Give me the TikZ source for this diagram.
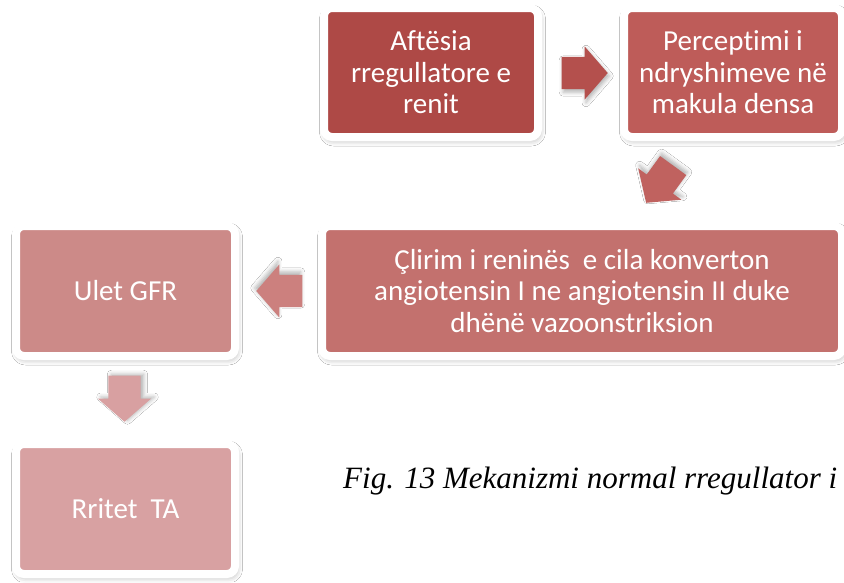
\documentclass[tikz,border=0pt]{standalone}
\usepackage{fontspec}
\setmainfont{Carlito}[Ligatures=NoCommon]
\newfontfamily\capfont{Liberation Serif}
\usetikzlibrary{shapes.arrows,shadows.blur}
\definecolor{cA}{RGB}{174,73,70}
\definecolor{cB}{RGB}{190,92,89}
\definecolor{cC}{RGB}{195,113,110}
\definecolor{cD}{RGB}{204,138,136}
\definecolor{cE}{RGB}{216,161,162}
\definecolor{aA}{RGB}{180,80,77}
\definecolor{aB}{RGB}{192,98,95}
\definecolor{aC}{RGB}{204,128,126}
\definecolor{aD}{RGB}{216,160,161}
\tikzset{
  boxnode/.style={rectangle, rounded corners=8pt, draw=white, line width=8pt,
    inner sep=0pt, align=center, text=white,
    font=\fontsize{29}{31.5}\selectfont,
    blur shadow={shadow xshift=1.5pt, shadow yshift=-3pt, shadow blur radius=6pt, shadow opacity=35}},
  blockarrow/.style={single arrow, draw=none, inner xsep=0pt, inner ysep=16pt,
    text height=0pt, text depth=0pt, text width=0pt,
    minimum height=46pt, minimum width=53pt, anchor=tip,
    single arrow head extend=10.5pt, single arrow tip angle=98},
  captext/.style={anchor=base west, inner sep=0pt, font=\capfont\itshape\fontsize{31}{36}\selectfont}
}
\begin{document}
\begin{tikzpicture}[x=1pt,y=-1pt]
\useasboundingbox[fill=white] (0,0) rectangle (844,582);
\node[boxnode, fill=cA, minimum width=214pt, minimum height=129pt] (b1) at (431,72.5)
  {Aftësia\\rregullatore e\\renit};
\node[boxnode, fill=cB, minimum width=218pt, minimum height=129pt] (b2) at (733,72.5)
  {Perceptimi i\\ndryshimeve në\\makula densa};
\node[boxnode, fill=cC, minimum width=520pt, minimum height=130pt] (b3) at (582,291)
  {Çlirim i reninës\ \ e cila konverton\\angiotensin I ne angiotensin II duke\\dhënë vazoonstriksion};
\node[boxnode, fill=cD, minimum width=219pt, minimum height=130pt] (b4) at (125.5,291)
  {Ulet GFR};
\node[boxnode, fill=cE, minimum width=219pt, minimum height=130pt] (b5) at (125.5,509)
  {Rritet\ \ TA};
\node[blockarrow, fill=aA, blur shadow={shadow xshift=1.5pt, shadow yshift=-3pt, shadow blur radius=4pt, shadow opacity=30}] (a1) at (608,73) {};
\node[blockarrow, fill=aB, rotate=234, blur shadow={shadow xshift=1.5pt, shadow yshift=3pt, shadow blur radius=4pt, shadow opacity=30}] (a2) at (646,203) {};
\node[blockarrow, fill=aC, rotate=180, blur shadow={shadow xshift=-1.5pt, shadow yshift=3pt, shadow blur radius=4pt, shadow opacity=30}] (a3) at (256,291) {};
\node[blockarrow, fill=aD, rotate=270, blur shadow={shadow xshift=3pt, shadow yshift=1.5pt, shadow blur radius=4pt, shadow opacity=30}] (a4) at (124.5,422) {};
\node[captext] (cap) at (343,488) {Fig. 13 Mekanizmi normal rregullator i};
\end{tikzpicture}
\end{document}
